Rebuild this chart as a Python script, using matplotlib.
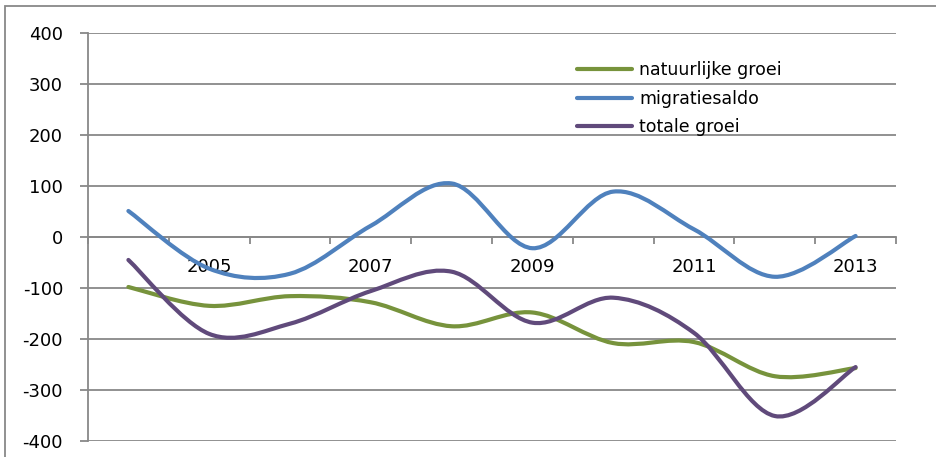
import matplotlib
matplotlib.use('Agg')

import numpy as np
import matplotlib.pyplot as plt
from matplotlib.path import Path
from matplotlib.patches import PathPatch, Rectangle
from matplotlib.lines import Line2D

plt.rcParams['font.family'] = 'DejaVu Sans'
plt.rcParams['axes.unicode_minus'] = False

years = [2004, 2005, 2006, 2007, 2008, 2009, 2010, 2011, 2012, 2013]
natuurlijke_groei = [-98, -135, -116, -128, -175, -148, -208, -206, -273, -257]
migratiesaldo = [51, -62, -72, 22, 105, -22, 89, 15, -78, 2]
totale_groei = [-45, -190, -170, -106, -68, -168, -119, -188, -351, -255]

series = [
    ('natuurlijke groei', natuurlijke_groei, '#77933C'),
    ('migratiesaldo', migratiesaldo, '#4F81BD'),
    ('totale groei', totale_groei, '#604A7B'),
]


def smooth_path(xs, ys):
    # excel style smoothed line: bezier through the points
    pts = np.column_stack([xs, ys]).astype(float)
    n = len(pts)
    verts = [pts[0]]
    codes = [Path.MOVETO]
    for i in range(n - 1):
        p0 = pts[i - 1] if i > 0 else pts[i]
        p1 = pts[i]
        p2 = pts[i + 1]
        p3 = pts[i + 2] if i + 2 < n else pts[i + 1]
        c1 = p1 + (p2 - p0) / 6.0
        c2 = p2 - (p3 - p1) / 6.0
        verts += [c1, c2, p2]
        codes += [Path.CURVE4] * 3
    return Path(verts, codes)


fig = plt.figure(figsize=(9.36, 4.57), dpi=100)
ax = fig.add_axes([88 / 936, 1 - 441 / 457, 808 / 936, 408 / 457])

# chart area border
fig.patches.append(Rectangle((5 / 936, -0.05), 1.0, 1 - 6 / 457 + 0.05,
                             transform=fig.transFigure, fill=False,
                             edgecolor='#888888', linewidth=1.3))

x = np.arange(len(years))
handles = []
for name, vals, col in series:
    patch = PathPatch(smooth_path(x, vals), facecolor='none', edgecolor=col,
                      linewidth=3.0, capstyle='round', joinstyle='round', zorder=3)
    ax.add_patch(patch)
    handles.append(Line2D([], [], color=col, linewidth=3.0, solid_capstyle='round'))

ax.set_xlim(-0.5, len(years) - 0.5)
ax.set_ylim(-400, 400)
ax.set_yticks(np.arange(-400, 401, 100))
ax.yaxis.grid(True, color='#888888', linewidth=1.3)
ax.set_axisbelow(True)

ax.spines['top'].set_visible(False)
ax.spines['right'].set_visible(False)
ax.spines['left'].set_color('#888888')
ax.spines['left'].set_linewidth(1.3)
ax.spines['bottom'].set_position(('data', 0))
ax.spines['bottom'].set_color('#888888')
ax.spines['bottom'].set_linewidth(1.3)

ax.set_xticks(x[1::2])
ax.set_xticklabels([str(y) for y in years[1::2]])
ax.set_xticks(np.arange(-0.5, len(years), 1.0), minor=True)
ax.tick_params(axis='x', which='major', length=0, pad=15, labelsize=13)
ax.tick_params(axis='x', which='minor', length=5, width=1.3, color='#888888')
ax.tick_params(axis='y', length=6, width=1.3, color='#888888', pad=12, labelsize=13)

ax.legend(handles, [s[0] for s in series], loc='upper left',
          bbox_to_anchor=((578 - 88) / 808 - 0.01, 1 - (54 - 33) / 408),
          frameon=False, fontsize=12.5, handlelength=3.2, handletextpad=0.4,
          labelspacing=0.62, borderaxespad=0)

fig.savefig('out.png', dpi=100)
